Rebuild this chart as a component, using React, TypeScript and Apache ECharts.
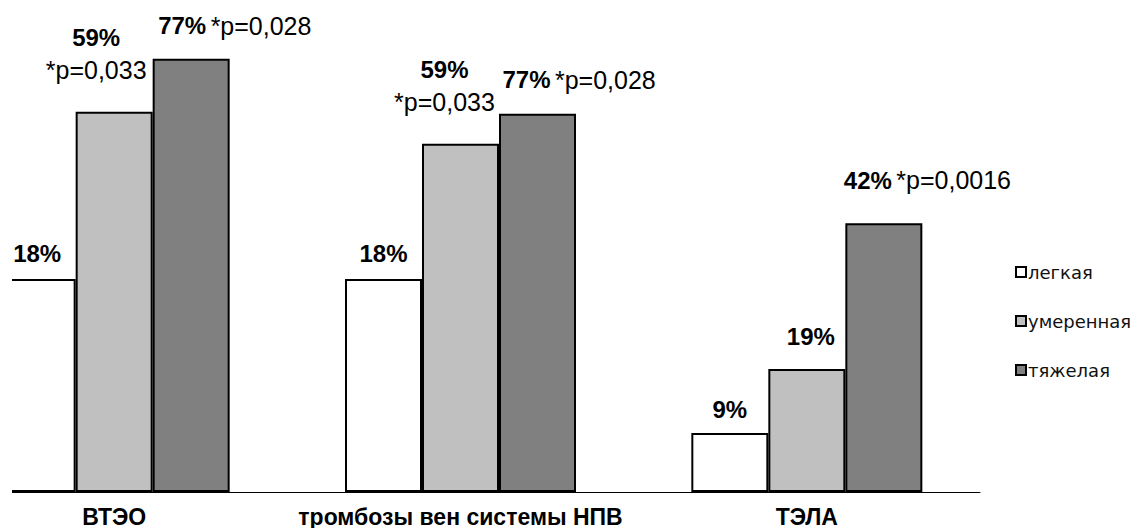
import React, { useEffect, useRef } from "react";
import * as echarts from "echarts";

const categories = ["ВТЭО", "тромбозы вен системы НПВ", "ТЭЛА"];
const seriesNames = ["легкая", "умеренная", "тяжелая"];

// bar heights (arbitrary units)
const lightValues = [33.3, 33.3, 9.2];
const moderateValues = [59.4, 54.4, 19.2];
const severeValues = [67.7, 59.1, 42.0];

// label texts
const lightPct = ["18%", "18%", "9%"];
const moderatePct = ["59%", "59%", "19%"];
const severePct = ["77%", "77%", "42%"];
const moderateP = ["*p=0,033", "*p=0,033", ""];
const severeP = ["*p=0,028", "*p=0,028", "*p=0,0016"];

// label layout tweaks (positions only)
const lightDist = [9, 9, 8];
const moderateDist = [26, 26, 17];
const moderateOffX = [-18, -16, 4];
const severeDist = [17, 18, 27];
const severeOffX = [-33, -35, -40];

const FONT = "'Liberation Sans', Arial, sans-serif";
const colors = ["#ffffff", "#c0c0c0", "#808080"];

export default function App() {
  const ref = useRef<HTMLDivElement>(null);
  useEffect(() => {
    if (!ref.current) return;
    const chart = echarts.init(ref.current, null, { renderer: "svg" });
    const rich = {
      b: { fontSize: 24, fontWeight: "bold", fontFamily: FONT, color: "#000", lineHeight: 32 },
      n: { fontSize: 25, fontWeight: "normal", fontFamily: FONT, color: "#000", lineHeight: 32 },
      s: { fontSize: 16, fontFamily: FONT, lineHeight: 32 },
    };
    const itemStyle = (c: string) => ({ color: c, borderColor: "#000", borderWidth: 2 });
    chart.setOption({
      animation: false,
      grid: { left: -71, right: 156, top: 12, bottom: 36, containLabel: false, outerBoundsMode: "none" },
      legend: {
        data: seriesNames,
        orient: "vertical",
        left: 998,
        top: 258,
        itemWidth: 10,
        itemHeight: 10,
        itemGap: 31,
        icon: "rect",
        selectedMode: false,
        textStyle: { fontSize: 18, fontFamily: "'DejaVu Sans', sans-serif", color: "#111", lineHeight: 18, padding: [0, 0, 0, -3] },
      },
      xAxis: {
        type: "category",
        data: categories,
        axisLine: { lineStyle: { color: "#000", width: 1 } },
        axisTick: { length: 7, lineStyle: { color: "#000", width: 1 } },
        axisLabel: {
          interval: 0,
          margin: 13,
          fontSize: 23,
          fontWeight: "bold",
          fontFamily: FONT,
          color: "#000",
        },
      },
      yAxis: { type: "value", min: 0, max: 75, show: false, splitLine: { show: false } },
      series: [
        {
          name: seriesNames[0],
          type: "bar",
          barWidth: 77,
          barGap: "0%",
          itemStyle: itemStyle(colors[0]),
          data: lightValues.map((v, i) => ({
            value: v,
            label: {
              show: true,
              position: "top",
              distance: lightDist[i],
              formatter: `{b|${lightPct[i]}}`,
              rich,
            },
          })),
        },
        {
          name: seriesNames[1],
          type: "bar",
          barWidth: 77,
          barGap: "0%",
          itemStyle: itemStyle(colors[1]),
          data: moderateValues.map((v, i) => ({
            value: v,
            label: {
              show: true,
              position: "top",
              distance: moderateDist[i],
              offset: [moderateOffX[i], 0],
              formatter: moderateP[i] ? `{b|${moderatePct[i]}}\n{n|${moderateP[i]}}` : `{b|${moderatePct[i]}}`,
              rich,
            },
          })),
        },
        {
          name: seriesNames[2],
          type: "bar",
          barWidth: 77,
          barGap: "0%",
          itemStyle: itemStyle(colors[2]),
          data: severeValues.map((v, i) => ({
            value: v,
            label: {
              show: true,
              position: "top",
              align: "left",
              distance: severeDist[i],
              offset: [severeOffX[i], 0],
              formatter: `{b|${severePct[i]}}{s| }{n|${severeP[i]}}`,
              rich,
            },
          })),
        },
      ],
    });
    return () => chart.dispose();
  }, []);
  return (
    <div
      ref={ref}
      style={{ position: "absolute", left: 12, top: 0, width: 1124, height: 528, overflow: "hidden", background: "#fff" }}
    />
  );
}
